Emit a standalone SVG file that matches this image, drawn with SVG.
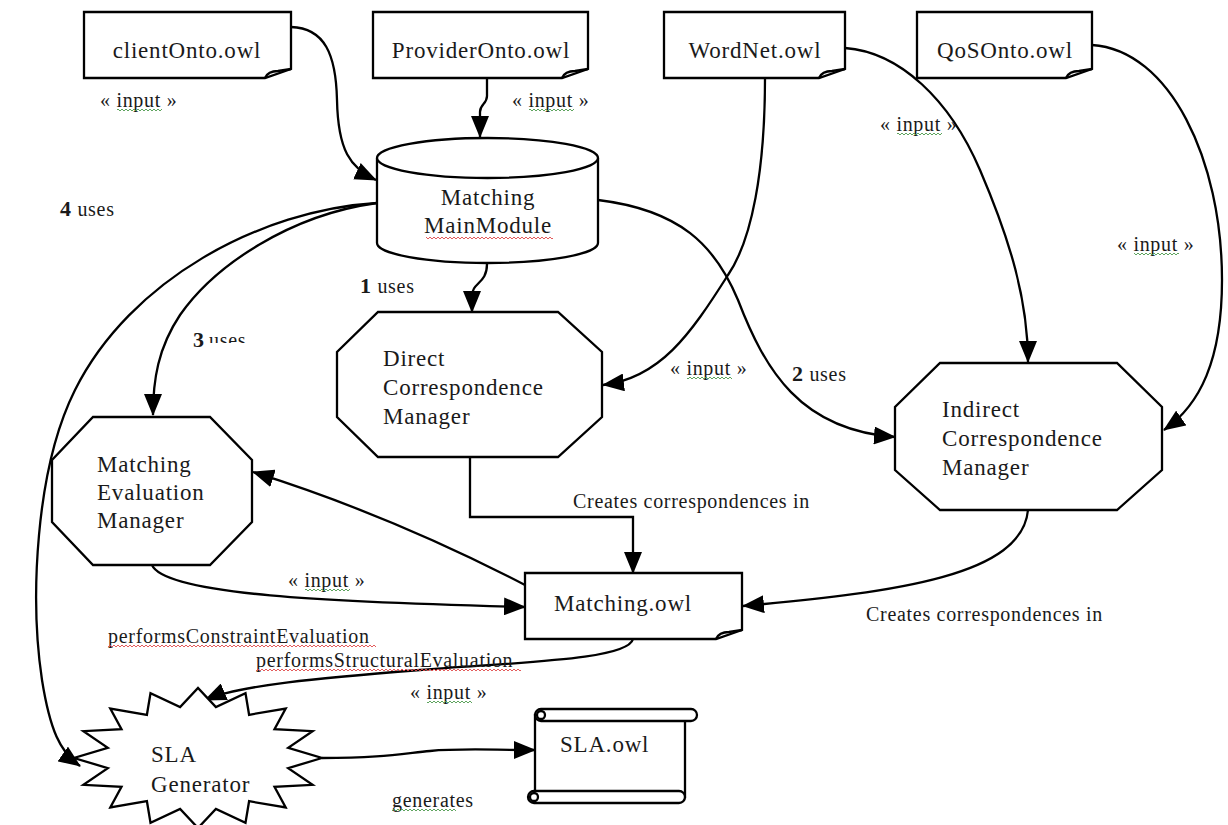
<svg xmlns="http://www.w3.org/2000/svg" width="1228" height="825" viewBox="0 0 1228 825">
  <style>
    .shape { fill: #fff; stroke: #000; stroke-width: 2.3; stroke-linejoin: miter; }
    .edge { fill: none; stroke: #000; stroke-width: 2.3; }
    .arrow { marker-end: url(#head); }
    .t { font-family: "Liberation Serif", "Times New Roman", serif; font-size: 23px; letter-spacing: 0.8px; fill: #1a1a1a; }
    .lbl { font-family: "Liberation Serif", "Times New Roman", serif; font-size: 20px; letter-spacing: 0.7px; fill: #1a1a1a; }
    .num { font-weight: bold; font-size: 22px; }
  </style>
  <defs>
    <marker id="head" markerUnits="userSpaceOnUse" markerWidth="22" markerHeight="18" viewBox="0 0 22 18" refX="21" refY="9" orient="auto">
      <path d="M0,0 L22,9 L0,18 Z" fill="#000"/>
    </marker>
    <!-- wavy proofing underlines -->
    <pattern id="waveRed" width="4" height="4" patternUnits="userSpaceOnUse">
      <path d="M0,3 L2,1 L4,3" fill="none" stroke="#e04848" stroke-width="0.9"/>
    </pattern>
    <pattern id="waveGreen" width="4" height="4" patternUnits="userSpaceOnUse">
      <path d="M0,3 L2,1 L4,3" fill="none" stroke="#4c9a4c" stroke-width="0.9"/>
    </pattern>
    <clipPath id="cutUses">
      <rect x="200" y="320" width="60" height="23"/>
    </clipPath>
  </defs>

  <rect x="0" y="0" width="1228" height="825" fill="#fff"/>

  <!-- connectors -->
  <g id="connectors">
    <path class="edge arrow" d="M291,27 C325,28 336,55 337,100 C338,150 350,168 376,180"/>
    <path class="edge arrow" d="M487,78 V96 C487,104 480,104 480,112 V137"/>
    <path class="edge arrow" d="M765,78 C765,170 752,240 728,275 C690,335 660,378 603,385"/>
    <path class="edge arrow" d="M845,48 C900,52 950,100 980,170 C1010,240 1028,300 1028,362"/>
    <path class="edge arrow" d="M1092,45 C1170,50 1222,160 1222,280 C1222,360 1200,405 1164,430"/>
    <path class="edge arrow" d="M487,264 C487,284 472,282 472,296 L472,312"/>
    <path class="edge arrow" d="M598,200 C680,210 715,245 738,300 C765,370 800,430 895,437"/>
    <path class="edge arrow" d="M377,203 C290,215 215,265 180,315 C158,348 153,380 153,415"/>
    <path class="edge arrow" d="M377,203 C260,210 130,280 75,390 C35,470 30,600 42,680 C50,730 60,752 80,766"/>
    <path class="edge arrow" d="M470,457 V517 H633 V573"/>
    <path class="edge arrow" d="M1028,510 C1022,575 900,592 743,606"/>
    <path class="edge arrow" d="M525,585 Q390,515 253,472"/>
    <path class="edge arrow" d="M152,565 C165,595 330,602 525,607"/>
    <path class="edge arrow" d="M633,639 C628,660 520,662 420,670 C320,678 240,685 205,700"/>
    <path class="edge arrow" d="M322,758 C380,758 400,754 430,751 C460,748 490,750 535,750"/>
  </g>

  <!-- connector labels -->
  <g id="labels">
    <text class="lbl" x="100" y="107">« input »</text>
    <rect x="117" y="108" width="45" height="4" fill="url(#waveGreen)"/>
    <text class="lbl" x="512" y="107">« input »</text>
    <rect x="529" y="108" width="45" height="4" fill="url(#waveGreen)"/>
    <text class="lbl" x="880" y="131">« input »</text>
    <rect x="897" y="132" width="45" height="4" fill="url(#waveGreen)"/>
    <text class="lbl" x="1117" y="251">« input »</text>
    <rect x="1134" y="252" width="45" height="4" fill="url(#waveGreen)"/>
    <text class="lbl" x="670" y="375">« input »</text>
    <rect x="687" y="376" width="45" height="4" fill="url(#waveGreen)"/>
    <text class="lbl" x="288" y="587">« input »</text>
    <rect x="305" y="588" width="45" height="4" fill="url(#waveGreen)"/>
    <text class="lbl" x="410" y="699">« input »</text>
    <rect x="427" y="700" width="45" height="4" fill="url(#waveGreen)"/>

    <text class="lbl" x="392" y="807">generates</text>
    <rect x="392" y="808" width="64" height="4" fill="url(#waveGreen)"/>

    <text class="lbl" x="573" y="508">Creates correspondences in</text>
    <text class="lbl" x="866" y="621">Creates correspondences in</text>

    <text class="lbl" x="108" y="643">performsConstraintEvaluation</text>
    <rect x="108" y="644" width="268" height="4" fill="url(#waveRed)"/>
    <text class="lbl" x="256" y="667">performsStructuralEvaluation</text>
    <rect x="256" y="668" width="265" height="4" fill="url(#waveRed)"/>

    <text class="lbl" x="60" y="216"><tspan class="num">4</tspan> uses</text>
    <text class="lbl" x="360" y="293"><tspan class="num">1</tspan> uses</text>
    <text class="lbl num" x="193" y="347">3</text>
    <text class="lbl" x="209" y="347" clip-path="url(#cutUses)">uses</text>
    <text class="lbl" x="792" y="381"><tspan class="num">2</tspan> uses</text>
  </g>

  <!-- ontology documents -->
  <g id="clientOnto">
    <path class="shape" d="M84,12 H291 V69 L265,78 H84 Z"/>
    <path class="edge" d="M265,78 Q268,71 278,71 L291,69"/>
    <text class="t" x="187" y="58" text-anchor="middle">clientOnto.owl</text>
  </g>
  <g id="providerOnto">
    <path class="shape" d="M373,12 H588 V69 L562,78 H373 Z"/>
    <path class="edge" d="M562,78 Q565,71 575,71 L588,69"/>
    <text class="t" x="481" y="58" text-anchor="middle">ProviderOnto.owl</text>
  </g>
  <g id="wordNet">
    <path class="shape" d="M664,12 H845 V69 L819,78 H664 Z"/>
    <path class="edge" d="M819,78 Q822,71 832,71 L845,69"/>
    <text class="t" x="755" y="58" text-anchor="middle">WordNet.owl</text>
  </g>
  <g id="qosOnto">
    <path class="shape" d="M917,12 H1092 V69 L1066,78 H917 Z"/>
    <path class="edge" d="M1066,78 Q1069,71 1079,71 L1092,69"/>
    <text class="t" x="1005" y="58" text-anchor="middle">QoSOnto.owl</text>
  </g>

  <!-- main module (cylinder) -->
  <g id="mainModule">
    <path class="shape" d="M377,158 V243 A110.5,20 0 0 0 598,243 V158"/>
    <ellipse class="shape" cx="487.5" cy="158" rx="110.5" ry="20"/>
    <text class="t" x="488" y="205" text-anchor="middle">Matching</text>
    <text class="t" x="488" y="233" text-anchor="middle">MainModule</text>
    <rect x="426" y="236" width="127" height="4" fill="url(#waveRed)"/>
  </g>

  <!-- managers -->
  <g id="directManager">
    <polygon class="shape" points="378,312 558,312 602,352 602,417 558,457 378,457 337,417 337,352"/>
    <text class="t" x="383" y="366">Direct</text>
    <text class="t" x="383" y="395">Correspondence</text>
    <text class="t" x="383" y="424">Manager</text>
  </g>
  <g id="indirectManager">
    <polygon class="shape" points="940,363 1117,363 1162,407 1162,470 1117,510 940,510 895,470 895,407"/>
    <text class="t" x="942" y="417">Indirect</text>
    <text class="t" x="942" y="446">Correspondence</text>
    <text class="t" x="942" y="475">Manager</text>
  </g>
  <g id="evaluationManager">
    <polygon class="shape" points="93,417 210,417 252,460 252,522 210,565 93,565 52,522 52,460"/>
    <text class="t" x="97" y="472">Matching</text>
    <text class="t" x="97" y="500">Evaluation</text>
    <text class="t" x="97" y="528">Manager</text>
  </g>

  <!-- matching result document -->
  <g id="matchingOwl">
    <path class="shape" d="M525,573 H742 V630 L716,639 H525 Z"/>
    <path class="edge" d="M716,639 Q719,632 729,632 L742,630"/>
    <text class="t" x="623" y="611" text-anchor="middle">Matching.owl</text>
  </g>

  <!-- SLA generator (explosion star) -->
  <g id="slaGenerator">
    <polygon class="shape" points="322,758 288.2,768.1 312.6,784.8 274.5,786.9 285.7,807.5 249.1,801.2 245.5,822.7 215.9,809 198,828 180.1,809 150.5,822.7 146.9,801.2 110.3,807.5 121.5,786.9 83.4,784.8 107.8,768.1 74,758 107.8,747.9 83.4,731.2 121.5,729.1 110.3,708.5 146.9,714.8 150.5,693.3 180.1,707 198,688 215.9,707 245.5,693.3 249.1,714.8 285.7,708.5 274.5,729.1 312.6,731.2 288.2,747.9"/>
    <text class="t" x="151" y="762">SLA</text>
    <text class="t" x="151" y="792">Generator</text>
  </g>

  <!-- SLA document (scroll) -->
  <g id="slaOwl">
    <path class="shape" d="M535,715 H685 V797 H535 Z"/>
    <rect class="shape" x="528" y="791" width="157" height="12" rx="6"/>
    <circle class="edge" cx="534" cy="797" r="4"/>
    <rect class="shape" x="535" y="709" width="162" height="12" rx="6"/>
    <circle class="edge" cx="541" cy="715" r="4"/>
    <text class="t" x="560" y="752">SLA.owl</text>
  </g>
</svg>
